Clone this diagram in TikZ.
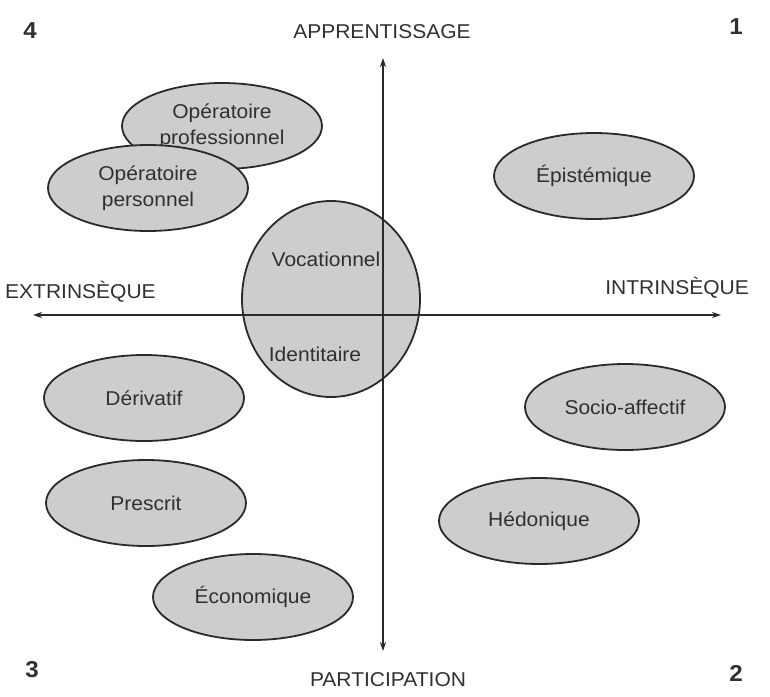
\documentclass[tikz,border=0pt]{standalone}
\usepackage{fontspec}
\setmainfont[FakeStretch=1.05]{Liberation Sans}
\usetikzlibrary{shapes.geometric,arrows.meta}
\definecolor{ink}{HTML}{303030}
\definecolor{fillg}{HTML}{CDCDCD}
\definecolor{edge}{HTML}{2A2A2A}
\tikzset{
  blob/.style={ellipse, draw=edge, line width=1.8pt, fill=fillg, inner sep=0pt,
    minimum width=200pt, minimum height=86pt, text=ink, align=center,
    font=\fontsize{20}{26}\selectfont},
  lbl/.style={text=ink, inner sep=0pt, font=\fontsize{20}{24}\selectfont},
  quad/.style={text=ink, inner sep=0pt, font=\fontsize{23}{26}\selectfont\bfseries},
  axis/.style={draw=edge, line width=1.5pt, {Stealth[length=9pt,width=6pt]}-{Stealth[length=9pt,width=6pt]}}
}
\begin{document}
\begin{tikzpicture}[x=1pt,y=-1pt]
\useasboundingbox (0,0) rectangle (770,696);
% ellipses
\node[blob] (prof) at (222,126) {Opératoire\\professionnel};
\node[blob] (pers) at (148,188) {Opératoire\\personnel};
\node[blob] (epis) at (594,176) {Épistémique};
\node[ellipse, draw=edge, line width=1.8pt, fill=fillg, inner sep=0pt,
  minimum width=178pt, minimum height=196pt] (voc) at (331,299) {};
\node[blob] (deri) at (144,398) {Dérivatif};
\node[blob] (soci) at (625,407) {Socio-affectif};
\node[blob] (hedo) at (539,521) {Hédonique};
\node[blob] (pres) at (146,503) {Prescrit};
\node[blob] (econ) at (253,597) {Économique};
% axes
\coordinate (top) at (383,58);
\coordinate (bot) at (383,651);
\coordinate (lft) at (33,315);
\coordinate (rgt) at (721,315);
\draw[axis] (bot) -- (top);
\draw[axis] (lft) -- (rgt);
% labels in circle
\node[lbl] (vocl) at (326,259) {Vocationnel};
\node[lbl] (iden) at (315,354) {Identitaire};
% axis labels
\node[lbl] (app) at (382,32) {APPRENTISSAGE};
\node[lbl] (par) at (388,680) {PARTICIPATION};
\node[lbl, anchor=west] (ext) at (5,292) {EXTRINSÈQUE};
\node[lbl, anchor=east] (int) at (749,288) {INTRINSÈQUE};
% quadrant numbers
\node[quad] (q4) at (30,31) {4};
\node[quad] (q1) at (736,27) {1};
\node[quad] (q3) at (32,670) {3};
\node[quad] (q2) at (736,673) {2};
\end{tikzpicture}
\end{document}
